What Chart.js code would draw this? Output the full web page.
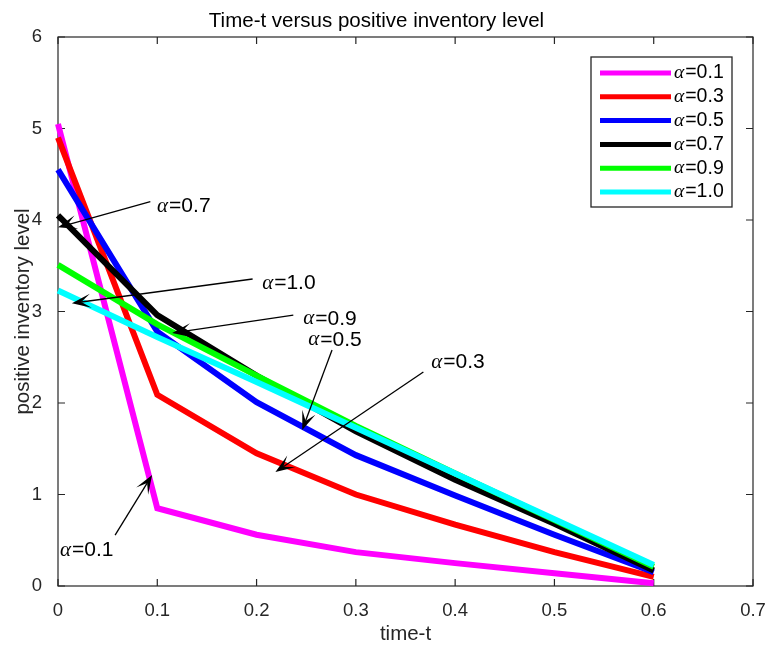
<!DOCTYPE html>
<html>
<head>
<meta charset="utf-8">
<script src="https://cdn.jsdelivr.net/npm/chart.js@4.4.1/dist/chart.umd.min.js"></script>
<style>
  html, body { margin: 0; padding: 0; background: #fff; }
  #wrap { width: 766px; height: 645px; }
</style>
</head>
<body>
<div id="wrap"><canvas id="chart" width="766" height="645"></canvas></div>
<script>
// ── Data ─────────────────────────────────────────────────────
const timeT = [0, 0.1, 0.2, 0.3, 0.4, 0.5, 0.6];
const alpha01 = [5.05, 0.85, 0.56, 0.37, 0.25, 0.14, 0.03];
const alpha03 = [4.90, 2.09, 1.45, 1.00, 0.67, 0.37, 0.10];
const alpha05 = [4.55, 2.78, 2.01, 1.43, 0.99, 0.56, 0.15];
const alpha07 = [4.05, 2.96, 2.30, 1.69, 1.16, 0.68, 0.17];
const alpha09 = [3.51, 2.86, 2.30, 1.75, 1.23, 0.72, 0.21];
const alpha10 = [3.23, 2.72, 2.23, 1.73, 1.23, 0.73, 0.23];

const seriesLabels = ['0.1', '0.3', '0.5', '0.7', '0.9', '1.0'];
const seriesValues = [alpha01, alpha03, alpha05, alpha07, alpha09, alpha10];
const seriesColors = ['#ff00ff', '#ff0000', '#0000ff', '#000000', '#00ff00', '#00ffff'];

const xTickLabels = ['0', '0.1', '0.2', '0.3', '0.4', '0.5', '0.6', '0.7'];
const yTickLabels = ['0', '1', '2', '3', '4', '5', '6'];

// text arrows, in data units: [time, level]
const arrowLabels = ['0.7', '1.0', '0.9', '0.5', '0.3', '0.1'];
const arrowTips = [[0.0, 3.92], [0.014, 3.09], [0.115, 2.765], [0.246, 1.705], [0.219, 1.246], [0.0948, 1.213]];
const arrowTails = [[0.093, 4.20], [0.196, 3.355], [0.237, 2.96], [0.276, 2.58], [0.368, 2.339], [0.0575, 0.557]];
const arrowTextAt = [[0.0998, 4.15], [0.2056, 3.31], [0.247, 2.92], [0.252, 2.69], [0.376, 2.448], [0.002, 0.393]];

// ── Style ────────────────────────────────────────────────────
const AXIS_COLOR = '#262626';
const SANS = '"Liberation Sans", Arial, Helvetica, sans-serif';
const SERIF = '"Liberation Serif", "Times New Roman", serif';

function drawAlphaText(ctx, x, y, value, size) {
    ctx.textBaseline = 'middle';
    ctx.textAlign = 'left';
    ctx.font = `italic ${size}px ${SERIF}`;
    ctx.fillText('α', x, y);
    const w = ctx.measureText('α').width;
    ctx.font = `${size}px ${SANS}`;
    ctx.fillText('=' + value, x + w + 1, y);
}

function drawArrow(ctx, x1, y1, x2, y2) {
    const ang = Math.atan2(y2 - y1, x2 - x1);
    const L = 19, W = 14, back = 0.5;
    ctx.beginPath();
    ctx.moveTo(x1, y1);
    ctx.lineTo(x2 - Math.cos(ang) * L * back, y2 - Math.sin(ang) * L * back);
    ctx.stroke();
    ctx.save();
    ctx.translate(x2, y2);
    ctx.rotate(ang);
    ctx.beginPath();
    ctx.moveTo(0, 0);
    ctx.lineTo(-L, W / 2);
    ctx.lineTo(-L * back, 0);
    ctx.lineTo(-L, -W / 2);
    ctx.closePath();
    ctx.fill();
    ctx.restore();
}

// ── Plugins ──────────────────────────────────────────────────
const axesBox = {
    id: 'axesBox',
    beforeDatasetsDraw(chart) {
        const { ctx, chartArea: a, scales: { x, y } } = chart;
        ctx.save();
        ctx.strokeStyle = AXIS_COLOR;
        ctx.lineWidth = 1.2;
        ctx.strokeRect(a.left, a.top, a.right - a.left, a.bottom - a.top);
        ctx.beginPath();
        x.ticks.forEach(t => {
            const px = x.getPixelForValue(t.value);
            ctx.moveTo(px, a.bottom); ctx.lineTo(px, a.bottom - 7);
            ctx.moveTo(px, a.top); ctx.lineTo(px, a.top + 7);
        });
        y.ticks.forEach(t => {
            const py = y.getPixelForValue(t.value);
            ctx.moveTo(a.left, py); ctx.lineTo(a.left + 7, py);
            ctx.moveTo(a.right, py); ctx.lineTo(a.right - 7, py);
        });
        ctx.stroke();
        ctx.restore();
    }
};

const textArrows = {
    id: 'textArrows',
    afterDatasetsDraw(chart) {
        const { ctx, scales: { x, y } } = chart;
        ctx.save();
        ctx.strokeStyle = '#000';
        ctx.fillStyle = '#000';
        ctx.lineWidth = 1.3;
        arrowLabels.forEach((label, i) => {
            const tip = arrowTips[i], tail = arrowTails[i], at = arrowTextAt[i];
            drawArrow(ctx,
                x.getPixelForValue(tail[0]), y.getPixelForValue(tail[1]),
                x.getPixelForValue(tip[0]), y.getPixelForValue(tip[1]));
            drawAlphaText(ctx, x.getPixelForValue(at[0]), y.getPixelForValue(at[1]), label, 21);
        });
        ctx.restore();
    }
};

const boxLegend = {
    id: 'boxLegend',
    afterDatasetsDraw(chart) {
        const { ctx, chartArea: a } = chart;
        const w = 141, h = 150;
        const left = a.right - 21 - w, top = a.top + 20;
        ctx.save();
        ctx.fillStyle = '#fff';
        ctx.fillRect(left, top, w, h);
        ctx.strokeStyle = AXIS_COLOR;
        ctx.lineWidth = 1.3;
        ctx.strokeRect(left, top, w, h);
        chart.data.datasets.forEach((ds, i) => {
            const cy = top + 16 + i * 23.8;
            ctx.strokeStyle = ds.borderColor;
            ctx.lineWidth = 5;
            ctx.beginPath();
            ctx.moveTo(left + 9, cy);
            ctx.lineTo(left + 80, cy);
            ctx.stroke();
            ctx.fillStyle = '#000';
            drawAlphaText(ctx, left + 83, cy, seriesLabels[i], 19.5);
        });
        ctx.restore();
    }
};

// ── Chart ────────────────────────────────────────────────────
const datasets = seriesValues.map((vals, i) => ({
    label: 'α=' + seriesLabels[i],
    data: timeT.map((t, j) => ({ x: t, y: vals[j] })),
    borderColor: seriesColors[i],
    backgroundColor: seriesColors[i],
    borderWidth: 6,
    pointRadius: 0,
    tension: 0,
    fill: false,
    clip: false,
    order: seriesValues.length - i,
}));

new Chart(document.getElementById('chart'), {
    type: 'line',
    data: { datasets },
    options: {
        responsive: false,
        animation: false,
        devicePixelRatio: 1,
        layout: { padding: { top: 0, right: 13, left: 0, bottom: 0 } },
        plugins: {
            legend: { display: false },
            tooltip: { enabled: false },
            title: {
                display: true,
                text: 'Time-t versus positive inventory level',
                color: '#000',
                font: { family: SANS, size: 20.5, weight: 'normal' },
                padding: { top: 9, bottom: 3.4 },
            },
        },
        scales: {
            x: {
                type: 'linear',
                min: 0,
                max: 0.7,
                grid: { display: false },
                border: { display: false },
                afterFit: s => { s.height = 59; s.paddingRight = 0; s.paddingLeft = 0; },
                ticks: {
                    stepSize: 0.1,
                    color: AXIS_COLOR,
                    padding: 6,
                    maxRotation: 0,
                    font: { family: SANS, size: 18.5 },
                    callback: (v, i) => xTickLabels[i],
                },
                title: {
                    display: true,
                    text: 'time-t',
                    color: AXIS_COLOR,
                    font: { family: SANS, size: 20.5 },
                    padding: { top: 0, bottom: -2 },
                },
            },
            y: {
                type: 'linear',
                min: 0,
                max: 6,
                grid: { display: false },
                border: { display: false },
                afterFit: s => { s.width = 58; s.paddingTop = 0; s.paddingBottom = 0; },
                ticks: {
                    stepSize: 1,
                    color: AXIS_COLOR,
                    padding: 8,
                    font: { family: SANS, size: 18.5 },
                    callback: (v, i) => yTickLabels[i],
                },
                title: {
                    display: true,
                    text: 'positive inventory level',
                    color: AXIS_COLOR,
                    font: { family: SANS, size: 20.5 },
                    padding: { top: 11, bottom: 0 },
                },
            },
        },
    },
    plugins: [axesBox, textArrows, boxLegend],
});
</script>
</body>
</html>
